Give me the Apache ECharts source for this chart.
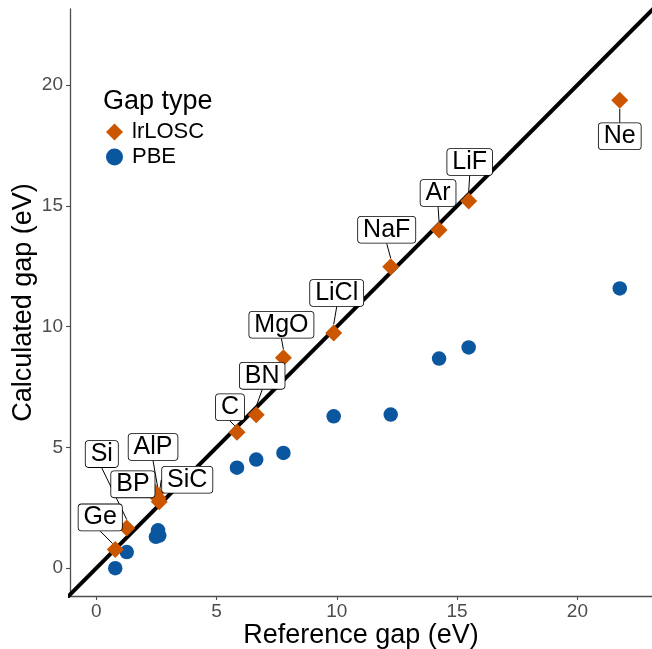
<!DOCTYPE html>
<html><head><meta charset="utf-8">
<script src="https://cdn.jsdelivr.net/npm/echarts@6/dist/echarts.min.js"></script>
<style>html,body{margin:0;padding:0;background:#fff}#c{width:652px;height:649px}</style>
</head><body><div id="c"></div>
<script>
const materials = ['Ge','Si','BP','AlP','SiC','C','BN','MgO','LiCl','NaF','Ar','LiF','Ne'];
const referenceGap = [0.79, 1.27, 2.48, 2.57, 2.62, 5.85, 6.65, 7.78, 9.87, 12.24, 14.25, 15.48, 21.76];
const lrloscGap   = [0.78, 1.66, 3.10, 2.91, 2.75, 5.63, 6.35, 8.71, 9.74, 12.48, 14.00, 15.20, 19.37];
const pbeGap      = [0.00, 0.67, 1.30, 1.57, 1.35, 4.16, 4.50, 4.77, 6.29, 6.36, 8.68, 9.14, 11.58];
const xTicks = [0, 5, 10, 15, 20];
const yTicks = [0, 5, 10, 15, 20];
const identityLine = [-5, 30];
// label offsets in pixels (dx, dy) relative to each point
const labelOffsets = {
  Ge:[-15,-32], Si:[-25,-74], BP:[-23,-9], AlP:[-5,-51], SiC:[28,-22], C:[-7,-25],
  BN:[6,-39], MgO:[-2,-33], LiCl:[3,-40], NaF:[-4,-37], Ar:[-1,-37], LiF:[1,-39], Ne:[0,36]
};

const orange = '#CC5500', blue = '#0A579F';
const chart = echarts.init(document.getElementById('c'));
const lrData = materials.map((m,i)=>({name:m, value:[referenceGap[i], lrloscGap[i]]}));
const pbeData = materials.map((m,i)=>({name:m, value:[referenceGap[i], pbeGap[i]]}));
const axisCommon = {
  axisLine:{show:true, onZero:false, lineStyle:{color:'#4d4d4d', width:1.3}},
  axisTick:{show:true, length:4, lineStyle:{color:'#4d4d4d', width:1.1}},
  splitLine:{show:false},
  nameMoveOverlap:false,
  nameTextStyle:{fontSize:27, color:'#000', fontFamily:'Liberation Sans'}
};
chart.setOption({
  animation:false,
  textStyle:{fontFamily:'Liberation Sans'},
  grid:{left:70, right:0, top:9, bottom:53, containLabel:false, outerBoundsMode:'none'},
  title:{text:'Gap type', left:103, top:88, padding:0,
    textStyle:{fontSize:27, fontWeight:'normal', color:'#000', fontFamily:'Liberation Sans'}},
  legend:{orient:'vertical', left:106, top:121, padding:0, itemGap:3, itemWidth:17, itemHeight:17,
    textStyle:{fontSize:22, color:'#000', fontFamily:'Liberation Sans', padding:[0,0,0,4]},
    data:[{name:'lrLOSC', icon:'diamond'},{name:'PBE', icon:'circle'}]},
  xAxis:Object.assign({}, axisCommon, {
    type:'value', min:-1.09, max:23.1,
    axisTick:Object.assign({}, axisCommon.axisTick, {customValues:xTicks}),
    axisLabel:{customValues:xTicks, fontSize:19, color:'#4d4d4d', margin:6},
    name:'Reference gap (eV)', nameLocation:'middle', nameGap:26
  }),
  yAxis:Object.assign({}, axisCommon, {
    type:'value', min:-1.15, max:23.15,
    axisTick:Object.assign({}, axisCommon.axisTick, {customValues:yTicks}),
    axisLabel:{customValues:yTicks, fontSize:19, color:'#4d4d4d', margin:7},
    name:'Calculated gap (eV)', nameLocation:'middle', nameGap:33, nameRotate:90
  }),
  series:[
    {type:'line', data:identityLine.map(v=>[v,v]), symbol:'none', silent:true,
     lineStyle:{color:'#000', width:4}, clip:true, z:1, legendHoverLink:false},
    {name:'PBE', type:'scatter', data:pbeData, symbol:'circle', symbolSize:14.5,
     itemStyle:{color:blue, opacity:1}, z:2},
    {name:'lrLOSC', type:'scatter', data:lrData, symbol:'diamond', symbolSize:17,
     itemStyle:{color:orange, opacity:1}, z:3,
     label:{show:true, position:'inside', formatter:p=>p.name, fontSize:25, lineHeight:25, color:'#000',
       backgroundColor:'#fff', borderColor:'#000', borderWidth:0.8, borderRadius:3,
       padding:[1,5,0,5], fontFamily:'Liberation Sans'},
     labelLine:{show:true, lineStyle:{color:'#000', width:1}},
     labelLayout:function(p){
       const o = labelOffsets[materials[p.dataIndex]];
       return {dx:o[0], dy:o[1]};
     }}
  ]
});
</script></body></html>
